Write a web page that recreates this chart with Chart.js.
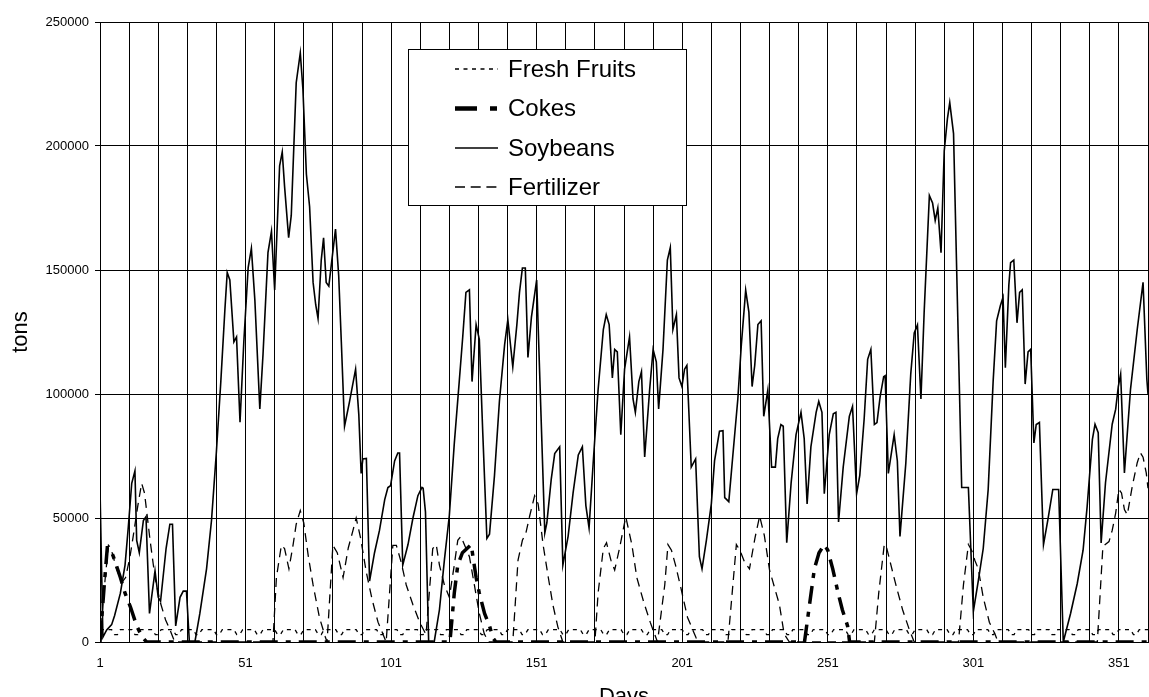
<!DOCTYPE html>
<html>
<head>
<meta charset="utf-8">
<script src="https://cdn.jsdelivr.net/npm/chart.js@4.4.1/dist/chart.umd.min.js"></script>
<style>
html,body{margin:0;padding:0;background:#fff;overflow:hidden;}
canvas{display:block;}
</style>
</head>
<body>
<canvas id="c" width="1149" height="720"></canvas>
<script>
// ---- data ----
const xTickLabels = ['1','51','101','151','201','251','301','351'];
const yTickValues = [0, 50000, 100000, 150000, 200000, 250000];

const soyDays = [1,2,3.3,5,6,8,9.6,10.7,11.9,13,
13.6,14.5,15.9,16.8,18,19.9,21,21.8,23.7,25,
25.9,27,28.5,29.6,30.7,31.7,33.6,35.3,37.6,39.3,
41,42.5,43.9,44.7,45.6,47,47.9,49.1,50.4,51.9,
53,54.2,55.9,57,58.7,59.9,61,62.7,63.6,64.4,
65.8,66.7,68.4,69.8,70.7,71.9,73,74.2,75.1,75.9,
77,77.8,78.7,79.6,81.9,83,83.9,85,86.7,88.8,
89.9,90.7,91.3,92.5,93.6,95.3,97,98.8,99.9,100.8,
102.2,103.3,103.9,105,106.8,108.5,110.2,111.6,112,112.8,
113.9,115.8,117.6,119.3,121,122.7,124.4,125.6,126.7,127.9,
128.8,130.2,131.3,132.5,133.9,134.8,136.5,138.2,140,141.1,
142.8,144.2,145.1,146.1,147.1,148,149.2,151,153.8,154.5,
156,157.2,158.9,160,161.8,163.5,165.3,166.7,167.9,169,
170.4,172.1,173.9,174.9,175.9,177,177.8,178.7,179.9,181.2,
182.9,184.1,184.9,186.1,187,188.1,189.8,191,192.1,192.9,
194.4,195.9,196.9,197.8,199,199.9,200.9,201.8,202.6,204.1,
205.6,206.9,207.8,209.3,211,212.1,213.8,215,215.6,217,
218.4,220.1,221.3,222.8,223.9,225,225.9,227,228.1,229,
230.4,231.7,233,233.8,234.9,235.7,236.9,238.4,240.1,241.8,
242.9,243.9,245.2,247,247.9,249,249.8,251.5,252.9,253.8,
254.7,256.3,258.4,259.5,260.9,262,263.5,264.7,265.8,267,
267.9,269,270.2,270.7,271.8,273.8,274.9,275.8,277.8,279.5,
280.7,281.8,283,284.1,285.9,287,287.9,288.8,289.9,291,
292.1,292.9,294.2,297,299.3,301,302.7,304.4,306.1,307.8,
309,310.3,311.2,312,313.2,313.8,314.9,316,316.9,317.8,
318.8,319.8,320.7,321.8,322.6,323.7,325.1,326.6,328.3,330.3,
331.9,334.4,336.7,338.7,340.1,341.9,342.8,343.9,344.9,346.4,
348.7,349.9,350.8,351.6,352.9,355,357.3,359.3,360.6,361];
const soyTons = [62000,2000,4900,7000,10600,19700,31000,46000,64000,69000,
41000,36000,49000,50500,11500,28700,18000,16400,37700,47500,
47500,6500,18000,20500,20500,0,0,11500,29500,49000,
77000,105000,134000,149000,146000,121000,123000,88600,121000,151000,
158700,137800,94000,116000,157000,165600,141900,192000,197600,183700,
163000,172000,225500,237500,223000,188600,175500,145000,136000,130400,
154000,163000,145000,143500,166500,147600,121000,87000,96800,110000,
91800,68000,73800,74000,24600,36000,45000,57400,62300,63000,
73000,76200,76200,31000,39300,50000,59000,62300,62000,52500,
0,0,13000,33000,51000,80000,105000,123000,141000,142000,
105000,128000,122000,84000,41800,43500,67000,97000,120000,130000,
111000,128000,141000,150800,150800,114700,131000,146000,44000,48000,
65600,76000,78700,31000,42600,60000,75400,78700,55000,46000,
72000,101600,126000,132000,128000,106500,118000,117000,83600,110000,
123000,98000,92600,105000,109000,74600,101600,118000,113000,94000,
118000,154000,159000,126000,132000,106500,103000,110000,111500,70500,
73800,34400,29500,41000,55700,73000,85000,85200,58200,56600,
75400,98000,119700,141900,133000,103000,111500,128000,129500,91000,
101600,70500,70500,82000,87700,87000,40000,64000,83600,92600,
82000,55700,78700,92600,97000,92600,59800,83600,92000,92600,
48400,70500,91000,95000,59800,67200,90000,114000,118000,87700,
88500,99000,107000,107400,68000,83600,73000,42600,72000,108000,
124600,127800,98000,132800,180000,177000,170000,175000,157000,198000,
211000,217500,205000,62300,62300,12300,24600,37700,61500,105000,
129500,135700,139000,110600,144000,153000,154000,128700,141000,142000,
104000,117000,118000,80300,87700,88500,39300,49200,61500,61500,
0,11500,23600,37000,54700,81700,87800,84400,39900,64200,
87800,93900,103000,108000,68200,102000,126000,145000,106000,100000];

const fertDays = [1,2.7,3.9,4.7,6.7,8.5,9.8,11.3,12.4,14,15.3,16.3,18.2,19.9,21.6,23.5,25,26.7,
60.4,61.6,63.3,64.4,65.9,67.3,68.4,69.8,71,72.5,74.2,76.4,78.4,79,81,82.5,84.5,86.3,87.9,89,90.5,92.5,94.5,96.5,99.3,
101.6,102.8,104.5,106.2,108.5,110.8,113,115.3,116.5,117.6,119.3,121,122.7,123.9,125,127.9,129.6,131.3,133,134.5,
142.8,144.6,146.1,147.3,148.6,150.3,151.5,153.2,155,156.6,158.3,160,
171,172.1,173.9,175,176.5,177.8,179.5,181.6,183.7,185.4,187.7,190,192,192.5,195,196.1,197.3,198.7,200.5,202.8,205.8,206.5,
216.7,219.6,220.8,222.5,224.1,226,227.6,229.2,231,234.4,236,237.8,
267,268.5,270.4,271,272.7,274.4,276.7,279,280.7,
295.9,297.6,299.3,300.4,301.5,302.7,304.4,306.5,308.4,309.5,
343.6,345.5,347.6,348.7,349.9,351,351.9,352.9,353.9,355.6,357.3,358.4,359.3,360.4,361];
const fertTons = [0,24600,39000,38000,29500,24000,26000,34400,42600,55000,64000,60000,41000,26000,16400,9000,5000,0,
0,26000,39000,37700,29500,39000,47500,53000,48000,35000,23000,9800,2000,0,39000,36000,26000,38000,45000,50000,42000,28000,17000,8000,0,
39000,39000,32000,23000,15000,8000,3000,37700,39300,31000,23000,18000,31000,41000,42600,34400,23000,11500,3300,0,
0,33000,41000,44000,50800,59000,55700,39300,26000,14800,6000,0,
0,19700,37700,40000,33000,29000,38000,50500,39300,26000,16400,8000,1600,0,23000,39300,37000,31000,22000,10000,1600,0,
0,39300,37000,32000,29500,42000,50800,43000,29000,15000,3300,0,
0,19700,39300,39000,31000,23000,13000,5000,0,
0,23000,39300,37000,33000,29500,18000,8000,3300,0,
0,38500,40500,45000,52000,61500,60100,53400,51300,62800,72300,76300,74500,68200,62000];

const cokeDays = [1,2.4,3.5,4.4,5.6,8,9.6,11.5,13.6,15.5,17,
121.2,122.7,123.9,125.5,128.5,130.2,131.3,133.1,134.8,136,137,
243,244.7,246.4,248,249.8,251,252.7,254.5,256,257.8,258.5,361];
const cokeTons = [0,22000,38000,38000,34400,26000,19700,14000,6500,2000,0,
0,19700,31000,36000,39300,26000,19700,11500,6500,1600,0,
0,14800,29500,36000,39300,37000,29500,20000,13000,6500,0,0];

const fruitDays = [1,5,6,7, 8,12,13,14, 15,19,20,21, 22,26,27,28, 29,33,34,35, 36,40,41,42,
43,47,48,49, 50,54,55,56, 57,61,62,63, 64,68,69,70, 71,75,76,77, 78,82,83,84,
85,89,90,91, 92,96,97,98, 99,103,104,105, 106,110,111,112, 113,117,118,119, 120,124,125,126,
127,131,132,133, 134,138,139,140, 141,145,146,147, 148,152,153,154, 155,159,160,161, 162,166,167,168,
169,173,174,175, 176,180,181,182, 183,187,188,189, 190,194,195,196, 197,201,202,203, 204,208,209,210,
211,215,216,217, 218,222,223,224, 225,229,230,231, 232,236,237,238, 239,243,244,245, 246,250,251,252,
253,257,258,259, 260,264,265,266, 267,271,272,273, 274,278,279,280, 281,285,286,287, 288,292,293,294,
295,299,300,301, 302,306,307,308, 309,313,314,315, 316,320,321,322, 323,327,328,329, 330,334,335,336,
337,341,342,343, 344,348,349,350, 351,355,356,357, 358,361];
const fruitTons = [5000,5000,3000,3000, 5000,5000,3000,3000, 5000,5000,3000,3000, 5000,5000,3000,3000, 5000,5000,3000,3000, 5000,5000,3000,3000,
5000,5000,3000,3000, 5000,5000,3000,3000, 5000,5000,3000,3000, 5000,5000,3000,3000, 5000,5000,3000,3000, 5000,5000,3000,3000,
5000,5000,3000,3000, 5000,5000,3000,3000, 5000,5000,3000,3000, 5000,5000,3000,3000, 5000,5000,3000,3000, 5000,5000,3000,3000,
5000,5000,3000,3000, 5000,5000,3000,3000, 5000,5000,3000,3000, 5000,5000,3000,3000, 5000,5000,3000,3000, 5000,5000,3000,3000,
5000,5000,3000,3000, 5000,5000,3000,3000, 5000,5000,3000,3000, 5000,5000,3000,3000, 5000,5000,3000,3000, 5000,5000,3000,3000,
5000,5000,3000,3000, 5000,5000,3000,3000, 5000,5000,3000,3000, 5000,5000,3000,3000, 5000,5000,3000,3000, 5000,5000,3000,3000,
5000,5000,3000,3000, 5000,5000,3000,3000, 5000,5000,3000,3000, 5000,5000,3000,3000, 5000,5000,3000,3000, 5000,5000,3000,3000,
5000,5000,3000,3000, 5000,5000,3000,3000, 5000,5000,3000,3000, 5000,5000,3000,3000, 5000,5000,3000,3000, 5000,5000,3000,3000,
5000,5000,3000,3000, 5000,5000,3000,3000, 5000,5000,3000,3000, 5000,5000];

// ---- helpers ----
function toPoints(days, tons){ return days.map((d,i)=>({x:d, y:tons[i]})); }
const gridDays = [];
for (let d = 1; d <= 361; d += 10) gridDays.push(d);

const FONT = '"Liberation Sans", Arial, sans-serif';

const boxLegend = {
  id: 'boxLegend',
  afterDraw(chart) {
    const ctx = chart.ctx;
    ctx.save();
    ctx.fillStyle = '#fff';
    ctx.fillRect(408, 49, 278, 156);
    ctx.strokeStyle = '#000';
    ctx.lineWidth = 1;
    ctx.strokeRect(408.5, 49.5, 278, 156);
    const rows = [69, 108.5, 148, 187];
    chart.data.datasets.forEach((ds, i) => {
      const y = rows[i];
      ctx.beginPath();
      ctx.strokeStyle = '#000';
      ctx.setLineDash(ds.legendDash || ds.borderDash || []);
      ctx.lineWidth = ds.legendWidth || ds.borderWidth;
      ctx.moveTo(455, y);
      ctx.lineTo(498, y);
      ctx.stroke();
      ctx.setLineDash([]);
      ctx.fillStyle = '#000';
      ctx.font = '24px ' + FONT;
      ctx.textBaseline = 'middle';
      ctx.textAlign = 'left';
      ctx.fillText(ds.label, 508, y + 1);
    });
    ctx.restore();
  }
};
const whiteBg = {
  id: 'whiteBg',
  beforeDraw(chart){ const c = chart.ctx; c.save(); c.fillStyle='#fff'; c.fillRect(0,0,chart.width,chart.height); c.restore(); }
};

new Chart(document.getElementById('c'), {
  type: 'line',
  data: {
    datasets: [
      { label: 'Fresh Fruits', data: toPoints(fruitDays, fruitTons), borderColor: '#000', borderWidth: 1.3, borderDash: [4, 4.5], pointRadius: 0, tension: 0, fill: false },
      { label: 'Cokes', data: toPoints(cokeDays, cokeTons), borderColor: '#000', borderWidth: 3.5, borderDash: [18, 8, 5, 8], legendDash: [22, 13, 7, 13], legendWidth: 4.5, pointRadius: 0, tension: 0, fill: false },
      { label: 'Soybeans', data: toPoints(soyDays, soyTons), borderColor: '#000', borderWidth: 1.6, pointRadius: 0, tension: 0, fill: false },
      { label: 'Fertilizer', data: toPoints(fertDays, fertTons), borderColor: '#000', borderWidth: 1.3, borderDash: [9, 6], legendDash: [10, 5.7], pointRadius: 0, tension: 0, fill: false }
    ]
  },
  options: {
    responsive: false,
    animation: false,
    devicePixelRatio: 1,
    layout: { padding: { top: 22, right: 1, bottom: 0, left: 0 } },
    plugins: { legend: { display: false }, tooltip: { enabled: false } },
    scales: {
      x: {
        type: 'linear',
        min: 1, max: 361,
        afterBuildTicks: (s) => { s.ticks = gridDays.map(v => ({ value: v })); },
        afterFit: (s) => { s.height = 78; s.paddingRight = 0; s.paddingLeft = 0; },
        ticks: {
          autoSkip: false, maxRotation: 0, color: '#000', padding: 14,
          font: { family: FONT, size: 13 },
          callback: (v) => xTickLabels.includes(String(v)) ? String(v) : ''
        },
        grid: { color: '#000', lineWidth: 1, drawTicks: false },
        border: { color: '#000', width: 1 },
        title: { display: true, text: 'Days', color: '#000', font: { family: FONT, size: 22 }, padding: { top: 0, bottom: 10 } }
      },
      y: {
        min: 0, max: 250000,
        afterBuildTicks: (s) => { s.ticks = yTickValues.map(v => ({ value: v })); },
        afterFit: (s) => { s.width = 100; },
        ticks: { color: '#000', padding: 6, font: { family: FONT, size: 13 }, callback: (v) => String(v) },
        grid: { color: '#000', lineWidth: 1, tickLength: 5, drawTicks: true },
        border: { color: '#000', width: 1 },
        title: { display: true, text: 'tons', color: '#000', font: { family: FONT, size: 22 }, padding: { top: 8, bottom: 0 } }
      }
    }
  },
  plugins: [whiteBg, boxLegend]
});
</script>
</body>
</html>
